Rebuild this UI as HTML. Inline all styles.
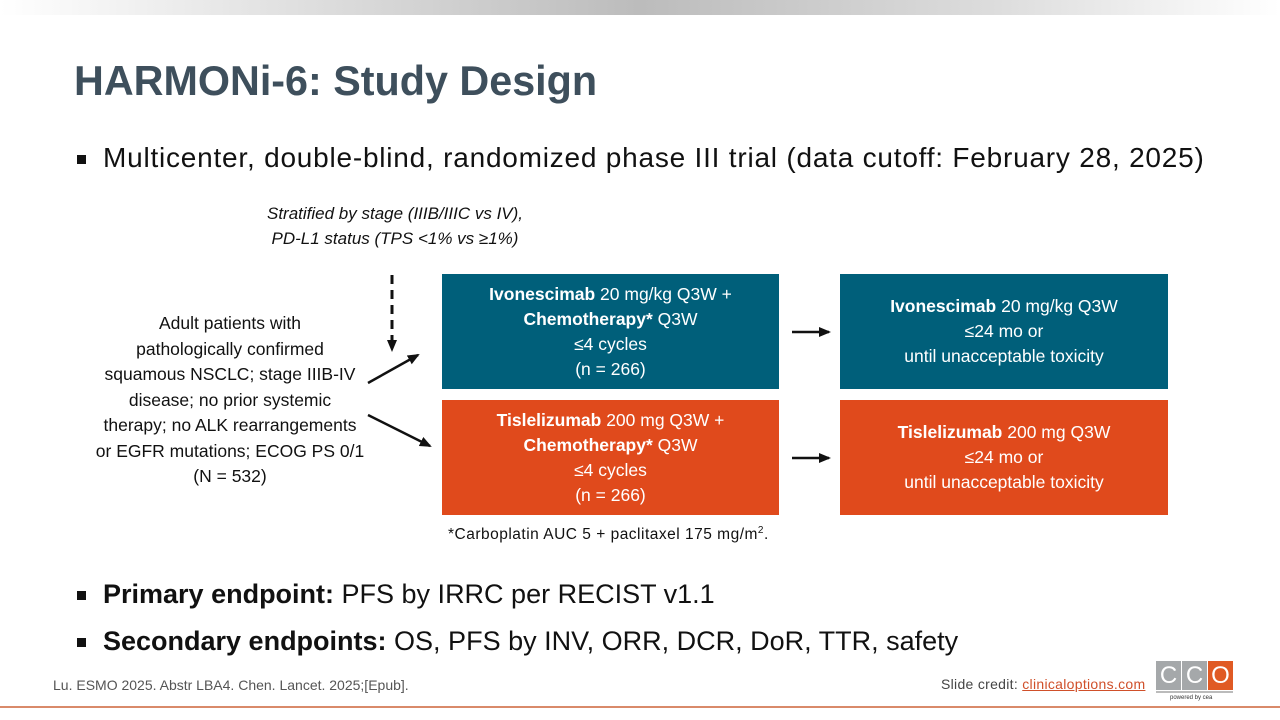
<!DOCTYPE html>
<html><head><meta charset="utf-8"><style>
body{margin:0;width:1280px;height:720px;position:relative;background:#fff;font-family:"Liberation Sans",sans-serif;overflow:hidden}
.a{position:absolute}
.box{position:absolute;color:#fff;text-align:center;font-size:17.5px;line-height:25px;display:flex;flex-direction:column;justify-content:center}
.t{background:#005f7a}.o{background:#e04a1c}
.b{position:absolute;width:9px;height:9px;background:#111}
</style></head><body>
<div class="a" style="left:0;top:0;width:1280px;height:15px;background:linear-gradient(90deg,#fff 0%,#ddd 25%,#bcbcbc 50%,#ddd 78%,#fff 100%)"></div>
<div class="a" style="left:74px;top:58px;font-size:41.3px;font-weight:bold;color:#3e4f5c">HARMONi-6: Study Design</div>
<div class="b" style="left:77px;top:155px"></div>
<div class="a" style="left:103px;top:142px;font-size:28px;letter-spacing:0.78px;color:#111">Multicenter, double-blind, randomized phase III trial (data cutoff: February 28, 2025)</div>
<div class="a" style="left:220px;top:201px;width:350px;text-align:center;font-size:17px;font-style:italic;line-height:25px;color:#111">Stratified by stage (IIIB/IIIC vs IV),<br>PD-L1 status (TPS &lt;1% vs ≥1%)</div>
<div class="a" style="left:70px;top:311px;width:320px;text-align:center;font-size:17.5px;line-height:25.5px;color:#111">Adult patients with<br>pathologically confirmed<br>squamous NSCLC; stage IIIB-IV<br>disease; no prior systemic<br>therapy; no ALK rearrangements<br>or EGFR mutations; ECOG PS 0/1<br>(N = 532)</div>
<svg class="a" style="left:0;top:0" width="1280" height="720">
<defs><marker id="m" markerWidth="12" markerHeight="12" refX="10" refY="6" orient="auto" markerUnits="userSpaceOnUse"><path d="M0,1 L12,6 L0,11z" fill="#111"/></marker></defs>
<line x1="392" y1="275" x2="392" y2="350" stroke="#111" stroke-width="3" stroke-dasharray="9,6" marker-end="url(#m)"/>
<line x1="368" y1="383" x2="418" y2="355" stroke="#111" stroke-width="2.5" marker-end="url(#m)"/>
<line x1="368" y1="415" x2="430" y2="446" stroke="#111" stroke-width="2.5" marker-end="url(#m)"/>
<line x1="792" y1="332" x2="829" y2="332" stroke="#111" stroke-width="2.5" marker-end="url(#m)"/>
<line x1="792" y1="458" x2="829" y2="458" stroke="#111" stroke-width="2.5" marker-end="url(#m)"/>
</svg>
<div class="box t" style="left:442px;top:274px;width:337px;height:115px"><div><b>Ivonescimab</b> 20 mg/kg Q3W +<br><b>Chemotherapy*</b> Q3W<br>≤4 cycles<br>(n = 266)</div></div>
<div class="box o" style="left:442px;top:400px;width:337px;height:115px"><div><b>Tislelizumab</b> 200 mg Q3W +<br><b>Chemotherapy*</b> Q3W<br>≤4 cycles<br>(n = 266)</div></div>
<div class="box t" style="left:840px;top:274px;width:328px;height:115px"><div><b>Ivonescimab</b> 20 mg/kg Q3W<br>≤24 mo or<br>until unacceptable toxicity</div></div>
<div class="box o" style="left:840px;top:400px;width:328px;height:115px"><div><b>Tislelizumab</b> 200 mg Q3W<br>≤24 mo or<br>until unacceptable toxicity</div></div>
<div class="a" style="left:448px;top:525px;font-size:15.5px;letter-spacing:0.5px;color:#111">*Carboplatin AUC 5 + paclitaxel 175 mg/m<sup style="font-size:10px">2</sup>.</div>
<div class="b" style="left:77px;top:591px"></div>
<div class="a" style="left:103px;top:579px;font-size:27px;color:#111"><b>Primary endpoint:</b> PFS by IRRC per RECIST v1.1</div>
<div class="b" style="left:77px;top:638px"></div>
<div class="a" style="left:103px;top:626px;font-size:27px;color:#111"><b>Secondary endpoints:</b> OS, PFS by INV, ORR, DCR, DoR, TTR, safety</div>
<div class="a" style="left:53px;top:677px;font-size:14px;color:#555">Lu. ESMO 2025. Abstr LBA4. Chen. Lancet. 2025;[Epub].</div>
<div class="a" style="left:941px;top:676px;font-size:14px;letter-spacing:0.3px;color:#444">Slide credit: <span style="color:#d0502a;text-decoration:underline">clinicaloptions.com</span></div>
<div class="a" style="left:1156px;top:661px;width:25px;height:29px;background:#a5a8aa;color:#fff;font-size:24px;text-align:center;line-height:29px">C</div>
<div class="a" style="left:1182px;top:661px;width:25px;height:29px;background:#a5a8aa;color:#fff;font-size:24px;text-align:center;line-height:29px">C</div>
<div class="a" style="left:1208px;top:661px;width:25px;height:29px;background:#e05a24;color:#fff;font-size:24px;text-align:center;line-height:29px">O</div>
<div class="a" style="left:1156px;top:691px;width:77px;height:2px;background:#bbb"></div>
<div class="a" style="left:1170px;top:695px;font-size:6px;color:#333">powered by cea</div>
<div class="a" style="left:0;top:706px;width:1280px;height:2px;background:#d98a6a"></div>
</body></html>
